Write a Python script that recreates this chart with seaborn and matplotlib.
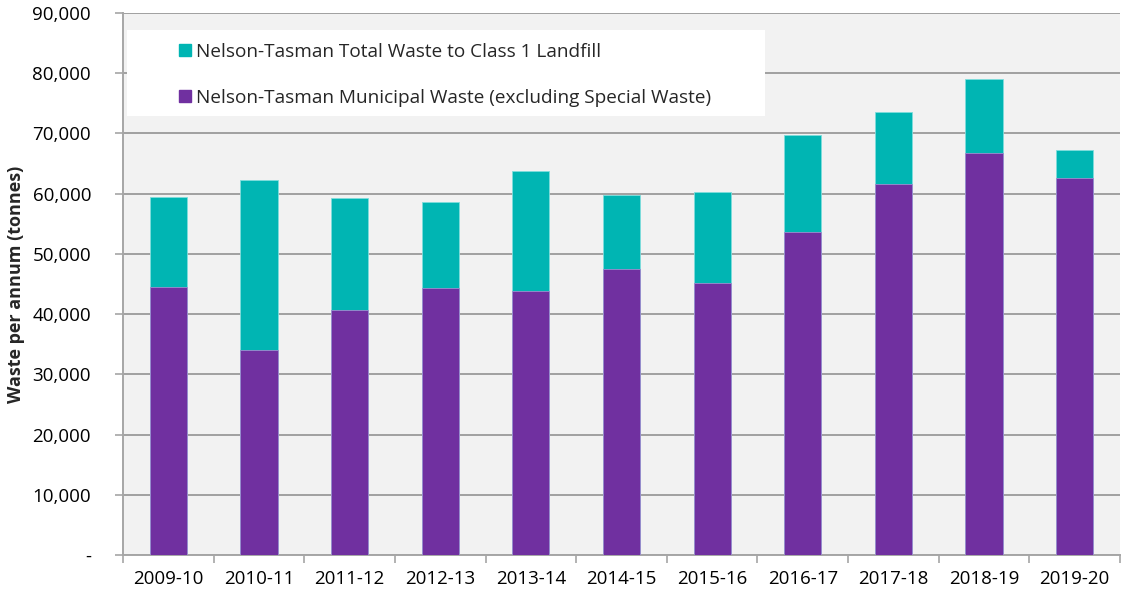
import matplotlib
matplotlib.use("Agg")
import matplotlib.pyplot as plt
import seaborn as sns
import pandas as pd
import numpy as np
from matplotlib.ticker import FuncFormatter, FixedLocator
from matplotlib.lines import Line2D
from matplotlib.patches import Rectangle

years = ["2009-10", "2010-11", "2011-12", "2012-13", "2013-14", "2014-15",
         "2015-16", "2016-17", "2017-18", "2018-19", "2019-20"]
total_waste = [59500, 62200, 59200, 58600, 63800, 59800, 60300, 69800, 73500, 79000, 67200]
municipal_waste = [44500, 34000, 40700, 44300, 43900, 47500, 45100, 53600, 61600, 66700, 62600]

label_total = "Nelson-Tasman Total Waste to Class 1 Landfill"
label_muni = "Nelson-Tasman Municipal Waste (excluding Special Waste)"
c_total = "#00B5B3"
c_muni = "#7030A0"

df = pd.DataFrame({"year": years, "total": total_waste, "muni": municipal_waste})

sns.set_theme(style="white")
plt.rcParams["font.family"] = ["Open Sans", "DejaVu Sans"]
FS = 13.5
FS_LEG = 13.7

fig = plt.figure(figsize=(11.26, 5.93), dpi=100)
ax = fig.add_axes([0.1092, 0.0641, 0.8855, 0.914])
ax.set_facecolor("#F2F2F2")

sns.barplot(data=df, x="year", y="total", color=c_total, width=0.41, ax=ax,
            saturation=1, edgecolor="#7FDDDC", linewidth=0.6, zorder=2)
sns.barplot(data=df, x="year", y="muni", color=c_muni, width=0.41, ax=ax,
            saturation=1, edgecolor="#9D8FD0", linewidth=0.6, zorder=3)

ax.set_xlim(-0.5, len(years) - 0.5)
ax.set_ylim(0, 90000)
ax.set_yticks(np.arange(0, 90001, 10000))
ax.yaxis.set_major_formatter(FuncFormatter(lambda v, p: "-" if v == 0 else f"{int(v):,}"))
ax.grid(axis="y", color="#A0A0A0", linewidth=1.4, zorder=1)
ax.set_axisbelow(True)

for s in ["top", "right"]:
    ax.spines[s].set_visible(False)
for s in ["left", "bottom"]:
    ax.spines[s].set_color("#A6A6A6")
    ax.spines[s].set_linewidth(1.4)

ax.tick_params(axis="y", which="major", length=6, width=1.2, color="#A6A6A6",
               labelsize=FS, labelcolor="black", pad=17, left=True, direction="out")
ax.tick_params(axis="x", which="major", length=0, labelsize=FS, labelcolor="black", pad=11)
ax.xaxis.set_minor_locator(FixedLocator(np.arange(-0.5, len(years), 1.0)))
ax.tick_params(axis="x", which="minor", length=6, width=1.2, color="#A6A6A6",
               bottom=True, direction="out")

ax.set_xlabel("")
ax.set_ylabel("Waste per annum (tonnes)", fontsize=13, fontweight="bold", labelpad=5)

# white legend panel
ax.add_patch(Rectangle((0.004, 0.81), 0.64, 0.1586, transform=ax.transAxes,
                       facecolor="white", edgecolor="none", zorder=4))

handles = [
    Line2D([0], [0], marker="s", linestyle="none", markersize=8,
           markerfacecolor=c_total, markeredgecolor=c_total, label=label_total),
    Line2D([0], [0], marker="s", linestyle="none", markersize=8,
           markerfacecolor=c_muni, markeredgecolor=c_muni, label=label_muni),
]
leg = ax.legend(handles=handles, loc="upper left", bbox_to_anchor=(0.054, 0.945),
                frameon=False, fontsize=FS_LEG, handletextpad=0.1,
                labelspacing=1.47, borderpad=0, handlelength=0.9,
                borderaxespad=0)
leg.set_zorder(5)

fig.savefig("out.png", dpi=100)
